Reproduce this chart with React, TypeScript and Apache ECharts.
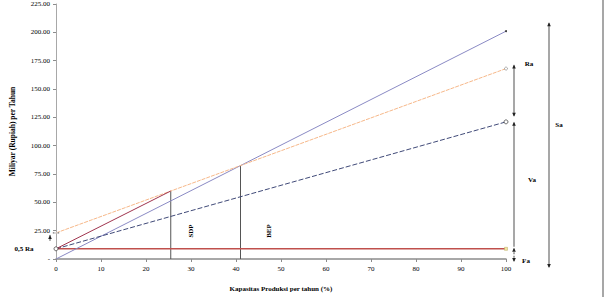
import React, { useEffect, useRef } from "react";
import * as echarts from "echarts";

// Data
const capacityRange = [0, 100];
const salesValues = [0, 201]; // Sa
const totalCostRa = [23, 168]; // orange line
const variableCostVa = [9, 121]; // dark blue dashed
const fixedCostFa = [9, 9]; // red horizontal
const sdpPoint = [25.5, 60];
const bepPoint = [41, 82];
const yTickValues = [0, 25, 50, 75, 100, 125, 150, 175, 200, 225];
const xTickValues = [0, 10, 20, 30, 40, 50, 60, 70, 80, 90, 100];

const FONT = "Liberation Serif";

export default function App() {
  const ref = useRef<HTMLDivElement>(null);
  useEffect(() => {
    document.body.style.margin = "0";
    if (!ref.current) return;
    const chart = echarts.init(ref.current, undefined, { renderer: "svg" });
    const pair = (ys: number[]) => capacityRange.map((x, i) => [x, ys[i]]);
    chart.setOption({
      animation: false,
      backgroundColor: "#ffffff",
      grid: { left: 56, right: 102, top: 4, bottom: 37 },
      xAxis: {
        type: "value",
        min: xTickValues[0],
        max: xTickValues[xTickValues.length - 1],
        interval: 10,
        name: "Kapasitas Produksi per tahun (%)",
        nameLocation: "middle",
        nameGap: 26,
        nameTextStyle: { fontFamily: FONT, fontSize: 7, fontWeight: "bold", color: "#000" },
        axisLine: { lineStyle: { color: "#8c8c8c", width: 1.5 } },
        axisTick: { length: 3, lineStyle: { color: "#8c8c8c" } },
        axisLabel: { fontFamily: FONT, fontSize: 7, color: "#000", margin: 6 },
        splitLine: { show: false },
      },
      yAxis: {
        type: "value",
        min: yTickValues[0],
        max: yTickValues[yTickValues.length - 1],
        interval: 25,
        name: "Miliyar (Rupiah) per Tahun",
        nameLocation: "middle",
        nameGap: 40,
        nameTextStyle: { fontFamily: FONT, fontSize: 7.5, fontWeight: "bold", color: "#000" },
        axisLine: { show: true, lineStyle: { color: "#a8a8a8", width: 1 } },
        axisTick: { show: true, length: 3, lineStyle: { color: "#8c8c8c" } },
        axisLabel: {
          fontFamily: FONT,
          fontSize: 7,
          color: "#000",
          margin: 6,
          formatter: (v: number) => (v === 0 ? "-" : v.toFixed(2)),
        },
        splitLine: { show: false },
      },
      series: [
        {
          name: "Sa",
          type: "line",
          data: [
            { value: pair(salesValues)[0], symbol: "none" },
            { value: pair(salesValues)[1], symbol: "circle", symbolSize: 2 },
          ],
          lineStyle: { color: "#8a8ac4", width: 1 },
          itemStyle: { color: "#333" },
          z: 3,
        },
        {
          name: "Ra",
          type: "line",
          data: [
            { value: pair(totalCostRa)[0], symbol: "rect", symbolSize: [5, 1] },
            { value: pair(totalCostRa)[1], symbol: "circle", symbolSize: 3 },
          ],
          lineStyle: { color: "#f6b88a", width: 1, type: [4, 1] },
          itemStyle: { color: "#fff", borderColor: "#777", borderWidth: 0.6 },
          z: 3,
        },
        {
          name: "Va",
          type: "line",
          data: [
            { value: pair(variableCostVa)[0], symbol: "circle", symbolSize: 4 },
            { value: pair(variableCostVa)[1], symbol: "circle", symbolSize: 4 },
          ],
          lineStyle: { color: "#404a78", width: 1, type: [5, 2] },
          itemStyle: { color: "#fff", borderColor: "#333", borderWidth: 0.7 },
          z: 4,
        },
        {
          name: "Fa",
          type: "line",
          data: [
            { value: pair(fixedCostFa)[0], symbol: "none" },
            { value: pair(fixedCostFa)[1], symbol: "rect", symbolSize: 3 },
          ],
          lineStyle: { color: "#c0504d", width: 1.5 },
          itemStyle: { color: "#f2e6a0", borderColor: "#b8a860", borderWidth: 0.5 },
          z: 2,
        },
        {
          name: "SDP-line",
          type: "line",
          data: [[capacityRange[0], fixedCostFa[0]], sdpPoint],
          symbol: "none",
          lineStyle: { color: "#a0354f", width: 1 },
          z: 4,
        },
        {
          name: "SDP",
          type: "line",
          data: [[sdpPoint[0], 0], sdpPoint],
          symbol: "none",
          lineStyle: { color: "#555", width: 1 },
          z: 1,
        },
        {
          name: "BEP",
          type: "line",
          data: [[bepPoint[0], 0], bepPoint],
          symbol: "none",
          lineStyle: { color: "#555", width: 1 },
          z: 1,
        },
      ],
    });

    const P = (x: number, y: number) => chart.convertToPixel({ gridIndex: 0 }, [x, y]) as number[];
    const col = "#8a8a8a";
    const arrowUp = (x: number, y: number, c = "#222") => ({
      type: "polygon",
      shape: { points: [[x, y], [x - 1.8, y + 4], [x + 1.8, y + 4]] },
      style: { fill: c },
    });
    const arrowDown = (x: number, y: number, c = "#222") => ({
      type: "polygon",
      shape: { points: [[x, y], [x - 1.8, y - 4], [x + 1.8, y - 4]] },
      style: { fill: c },
    });
    const vline = (x: number, y1: number, y2: number, dash?: number[]) => ({
      type: "line",
      shape: { x1: x, y1, x2: x, y2 },
      style: { stroke: col, lineWidth: 1.5, lineDash: dash },
    });
    const label = (text: string, x: number, y: number, rotation = 0) => ({
      type: "text",
      x,
      y,
      rotation,
      style: {
        text,
        fontFamily: FONT,
        fontSize: 7,
        fontWeight: "bold",
        fill: "#000",
        align: "center",
        verticalAlign: "middle",
      },
    });

    const xA = P(100, 0)[0] + 8;
    const xS = P(100, 0)[0] + 43;
    const yRa = P(100, totalCostRa[1])[1];
    const yVa = P(100, variableCostVa[1])[1];
    const yFa = P(100, fixedCostFa[1])[1];
    const y0 = P(0, 0)[1];
    const ySa = P(100, salesValues[1])[1];
    const xY = P(0, 0)[0];
    const yR0 = P(0, totalCostRa[0])[1];
    const sdpPx = P(sdpPoint[0], 0);
    const bepPx = P(bepPoint[0], 0);

    chart.setOption({
      graphic: [
        // Ra
        vline(xA, yRa - 3, yVa - 6),
        arrowUp(xA, yRa - 4),
        arrowDown(xA, yVa - 5),
        // Va
        vline(xA, yVa + 1, yFa - 2),
        arrowUp(xA, yVa),
        // Fa (dotted)
        vline(xA, yFa, y0 + 2, [2, 1.5]),
        arrowUp(xA, yFa - 1),
        arrowDown(xA, y0 + 3),
        // Sa
        vline(xS, ySa - 8, y0 + 8),
        arrowUp(xS, ySa - 9),
        arrowDown(xS, y0 + 9),
        // small arrow near y-axis (0.5 Ra)
        {
          type: "line",
          shape: { x1: xY - 6, y1: yR0 + 2, x2: xY - 6, y2: yR0 + 8 },
          style: { stroke: "#333", lineWidth: 0.8 },
        },
        arrowUp(xY - 6, yR0 + 2),
        // frame border on the right
        {
          type: "line",
          shape: { x1: 603, y1: 0, x2: 603, y2: 297 },
          style: { stroke: col, lineWidth: 1.5 },
        },
        label("Ra", xA + 15, yRa - 5),
        label("Va", xA + 18, (yVa + yFa) / 2 - 5),
        label("Fa", xA + 12, y0 + 2),
        label("Sa", xS + 10, 125),
        label("0,5 Ra", 24, yFa),
        label("SDP", sdpPx[0] + 20, y0 - 28, Math.PI / 2),
        label("BEP", bepPx[0] + 28, y0 - 28, Math.PI / 2),
      ],
    });

    return () => chart.dispose();
  }, []);
  return <div ref={ref} style={{ width: 608, height: 297 }} />;
}
